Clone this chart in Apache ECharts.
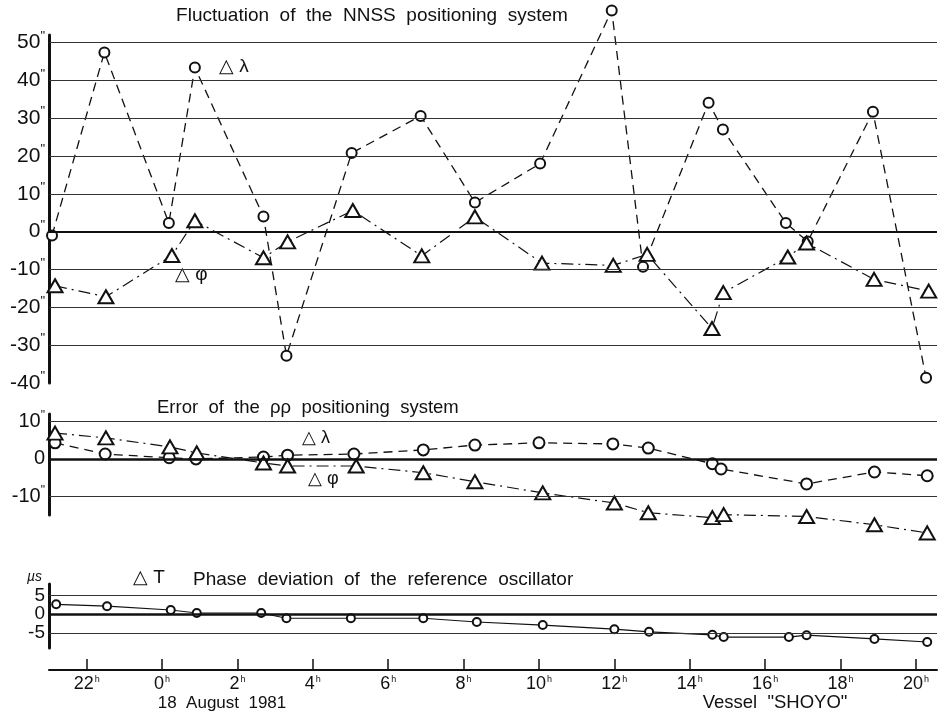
<!DOCTYPE html>
<html>
<head>
<meta charset="utf-8">
<script src="https://cdn.jsdelivr.net/npm/echarts@6/dist/echarts.min.js"></script>
<style>
  html, body { margin: 0; padding: 0; background: #fff; }
  #chart { width: 946px; height: 716px; }
</style>
</head>
<body>
<div id="chart"></div>
<script>
// ---- Data (hours relative to 0h, 18 August 1981; negative = 17 August) ----
// Panel 1: Fluctuation of the NNSS positioning system (seconds of arc)
var nnssLambdaT = [-2.92, -1.53, 0.18, 0.87, 2.69, 3.30, 5.03, 6.86, 8.30, 10.03, 11.93, 12.76, 14.50, 14.88, 16.55, 17.13, 18.86, 20.27];
var nnssLambdaV = [-1.0, 47.4, 2.3, 43.4, 4.0, -32.8, 20.8, 30.6, 7.7, 18.0, 58.5, -9.3, 34.1, 27.0, 2.3, -2.6, 31.7, -38.6];
var nnssPhiT    = [-2.84, -1.49, 0.26, 0.87, 2.69, 3.33, 5.06, 6.89, 8.30, 10.08, 11.97, 12.87, 14.59, 14.89, 16.60, 17.10, 18.89, 20.34];
var nnssPhiV    = [-14.3, -17.2, -6.3, 2.9, -6.9, -2.7, 5.6, -6.4, 3.9, -8.3, -8.9, -6.0, -25.6, -16.1, -6.7, -3.0, -12.6, -15.7];

// Panel 2: Error of the rho-rho positioning system (seconds of arc)
var rrLambdaT = [-2.84, -1.51, 0.19, 0.90, 2.69, 3.33, 5.09, 6.93, 8.30, 10.00, 11.96, 12.90, 14.60, 14.83, 17.10, 18.90, 20.30];
var rrLambdaV = [4.3, 1.3, 0.3, 0.0, 0.5, 1.0, 1.3, 2.4, 3.7, 4.3, 4.0, 2.9, -1.3, -2.7, -6.7, -3.5, -4.5];
var rrPhiT    = [-2.84, -1.49, 0.21, 0.92, 2.69, 3.33, 5.15, 6.93, 8.30, 10.10, 12.00, 12.90, 14.60, 14.90, 17.10, 18.90, 20.30];
var rrPhiV    = [6.9, 5.6, 3.2, 1.6, -1.1, -1.9, -1.9, -3.7, -6.1, -9.1, -11.8, -14.4, -15.7, -14.9, -15.4, -17.6, -19.8];

// Panel 3: Phase deviation of the reference oscillator (microseconds)
var phaseT = [-2.81, -1.46, 0.23, 0.92, 2.63, 3.30, 5.01, 6.93, 8.35, 10.10, 12.00, 12.92, 14.60, 14.90, 16.63, 17.10, 18.90, 20.30];
var phaseV = [2.6, 2.1, 1.1, 0.3, 0.3, -1.1, -1.1, -1.1, -2.1, -2.9, -4.0, -4.7, -5.5, -6.1, -6.1, -5.6, -6.6, -7.4];

// Tick labels
var hourTicks = [-2, 0, 2, 4, 6, 8, 10, 12, 14, 16, 18, 20];
var nnssTicks = [50, 40, 30, 20, 10, 0, -10, -20, -30, -40];
var nnssGrid  = [50, 40, 30, 20, 10, -10, -20, -30];
var rrTicks   = [10, 0, -10];
var rrGrid    = [10, -10];
var phaseTicks = [5, 0, -5];
var phaseGrid  = [5, -5];

function pairs(t, v) { return t.map(function (x, i) { return [x, v[i]]; }); }

var FONT = '"Liberation Sans", Arial, sans-serif';
var INK = '#111';

function gridLines(vals, zero) {
  var d = vals.map(function (v) { return { yAxis: v, lineStyle: { width: 1, color: '#333' } }; });
  d.push({ yAxis: 0, lineStyle: { width: zero, color: '#111' } });
  return {
    silent: true, symbol: ['none', 'none'], label: { show: false },
    lineStyle: { type: 'solid' }, animation: false, data: d
  };
}

var chart = echarts.init(document.getElementById('chart'), null, { renderer: 'canvas' });

var xBase = {
  type: 'value', min: -3, max: 20.56,
  axisLine: { show: false, onZero: false }, axisTick: { show: false }, axisLabel: { show: false }, splitLine: { show: false }
};

function yAxisDef(gridIndex, min, max, ticks, fmt, fs) {
  return {
    type: 'value', gridIndex: gridIndex, min: min, max: max,
    axisLine: { show: true, onZero: false, lineStyle: { color: INK, width: 3 } },
    axisTick: { show: false },
    splitLine: { show: false },
    axisLabel: {
      show: true, customValues: ticks, margin: 4,
      formatter: fmt,
      rich: {
        n: { fontFamily: FONT, fontSize: fs, color: INK },
        p: { fontFamily: FONT, fontSize: Math.round(fs * 0.6), color: INK, padding: [0, 0, fs * 0.6, 0] }
      }
    }
  };
}

var option = {
  backgroundColor: '#fff',
  animation: false,
  grid: [
    { left: 49, right: 9, top: 35, height: 348 },
    { left: 49, right: 9, top: 414, height: 101 },
    { left: 49, right: 9, top: 584, height: 64 }
  ],
  xAxis: [
    Object.assign({ gridIndex: 0 }, xBase),
    Object.assign({ gridIndex: 1 }, xBase),
    {
      type: 'value', gridIndex: 2, min: -3, max: 20.56, offset: 22,
      axisLine: { show: true, onZero: false, lineStyle: { color: INK, width: 2 } },
      axisTick: { show: true, inside: true, length: 11, customValues: hourTicks, lineStyle: { color: INK, width: 1.5 } },
      splitLine: { show: false },
      axisLabel: {
        show: true, customValues: hourTicks, margin: 5,
        formatter: function (v) { var h = v < 0 ? v + 24 : v; return '{n|' + h + '}{h|h}'; },
        rich: {
          n: { fontFamily: FONT, fontSize: 18, color: INK },
          h: { fontFamily: FONT, fontSize: 9, color: INK, padding: [0, 0, 10, 1] }
        }
      }
    }
  ],
  yAxis: [
    yAxisDef(0, -40, 52, nnssTicks, function (v) { return '{n|' + v + '}{p|"}'; }, 21),
    yAxisDef(1, -15, 12, rrTicks, function (v) { return v === 0 ? '{n|0}' : '{n|' + v + '}{p|"}'; }, 20),
    yAxisDef(2, -9, 8, phaseTicks, function (v) { return '{n|' + v + '}'; }, 19)
  ],
  series: [
    {
      name: 'NNSS dlambda', type: 'line', xAxisIndex: 0, yAxisIndex: 0,
      data: pairs(nnssLambdaT, nnssLambdaV), clip: false, showSymbol: true, showAllSymbol: true,
      symbol: 'emptyCircle', symbolSize: 10,
      itemStyle: { color: INK, borderWidth: 1.8 },
      lineStyle: { color: INK, width: 1.3, type: [9, 6] },
      markLine: gridLines(nnssGrid, 2), z: 3
    },
    {
      name: 'NNSS dphi', type: 'line', xAxisIndex: 0, yAxisIndex: 0,
      data: pairs(nnssPhiT, nnssPhiV), clip: false, showSymbol: true, showAllSymbol: true,
      symbol: 'emptyTriangle', symbolSize: [15, 13],
      itemStyle: { color: INK, borderWidth: 1.8 },
      lineStyle: { color: INK, width: 1.2, type: [12, 5, 2, 5] }, z: 3
    },
    {
      name: 'rr dlambda', type: 'line', xAxisIndex: 1, yAxisIndex: 1,
      data: pairs(rrLambdaT, rrLambdaV), clip: false, showSymbol: true, showAllSymbol: true,
      symbol: 'emptyCircle', symbolSize: 11,
      itemStyle: { color: INK, borderWidth: 1.8 },
      lineStyle: { color: INK, width: 1.3, type: [9, 6] },
      markLine: gridLines(rrGrid, 2.5), z: 3
    },
    {
      name: 'rr dphi', type: 'line', xAxisIndex: 1, yAxisIndex: 1,
      data: pairs(rrPhiT, rrPhiV), clip: false, showSymbol: true, showAllSymbol: true,
      symbol: 'emptyTriangle', symbolSize: [15, 13],
      itemStyle: { color: INK, borderWidth: 1.8 },
      lineStyle: { color: INK, width: 1.2, type: [12, 5, 2, 5] }, z: 3
    },
    {
      name: 'phase dT', type: 'line', xAxisIndex: 2, yAxisIndex: 2,
      data: pairs(phaseT, phaseV), clip: false, showSymbol: true, showAllSymbol: true,
      symbol: 'emptyCircle', symbolSize: 8,
      itemStyle: { color: INK, borderWidth: 1.8 },
      lineStyle: { color: INK, width: 1.2, type: 'solid' },
      markLine: gridLines(phaseGrid, 2.5), z: 3
    }
  ],
  graphic: [
    { type: 'text', x: 372, y: 16, style: { text: 'Fluctuation  of  the  NNSS  positioning  system', font: '19px ' + FONT, fill: INK, textAlign: 'center', textVerticalAlign: 'middle' } },
    { type: 'text', x: 219, y: 67, style: { text: '△ λ', font: '19px ' + FONT, fill: INK, textVerticalAlign: 'middle' } },
    { type: 'text', x: 175, y: 275, style: { text: '△ φ', font: '19px ' + FONT, fill: INK, textVerticalAlign: 'middle' } },
    { type: 'text', x: 157, y: 408, style: { text: 'Error  of  the  ρρ  positioning  system', font: '18.5px ' + FONT, fill: INK, textVerticalAlign: 'middle' } },
    { type: 'text', x: 302, y: 438, style: { text: '△ λ', font: '18px ' + FONT, fill: INK, textVerticalAlign: 'middle' } },
    { type: 'text', x: 308, y: 479, style: { text: '△ φ', font: '18px ' + FONT, fill: INK, textVerticalAlign: 'middle' } },
    { type: 'text', x: 133, y: 578, style: { text: '△ T', font: '19px ' + FONT, fill: INK, textVerticalAlign: 'middle' } },
    { type: 'text', x: 193, y: 580, style: { text: 'Phase  deviation  of  the  reference  oscillator', font: '19px ' + FONT, fill: INK, textVerticalAlign: 'middle' } },
    { type: 'text', x: 27, y: 577, style: { text: 'µs', font: 'italic 14px ' + FONT, fill: INK, textVerticalAlign: 'middle' } },
    { type: 'text', x: 222, y: 703, style: { text: '18  August  1981', font: '17px ' + FONT, fill: INK, textAlign: 'center', textVerticalAlign: 'middle' } },
    { type: 'text', x: 775, y: 703, style: { text: 'Vessel  "SHOYO"', font: '18.5px ' + FONT, fill: INK, textAlign: 'center', textVerticalAlign: 'middle' } }
  ]
};

chart.setOption(option);
</script>
</body>
</html>
